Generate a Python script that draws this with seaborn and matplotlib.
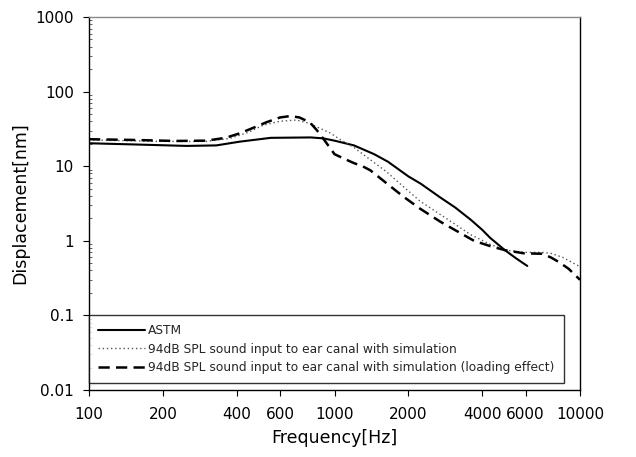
import numpy as np
import pandas as pd
import matplotlib
matplotlib.use("Agg")
import matplotlib.pyplot as plt
from matplotlib.ticker import FixedLocator, FixedFormatter, NullLocator, LogLocator
import seaborn as sns

# values (log-log axes)
astm_freq = [100, 150, 250, 330, 410, 550, 800, 900, 1000, 1200, 1450, 1650, 2000,
             2250, 2700, 3100, 3600, 4000, 4300, 4940, 5500, 6100]
astm_disp = [20.3, 19.6, 18.7, 19.0, 21.3, 24.0, 24.3, 23.6, 22.0, 19.0, 14.5, 11.5, 7.3,
             5.8, 3.8, 2.8, 1.9, 1.4, 1.1, 0.75, 0.58, 0.46]

sim_freq = [100, 200, 300, 375, 440, 513, 600, 700, 780, 848, 960, 1050, 1190, 1390,
            1630, 1910, 2230, 2620, 3070, 3600, 4300, 4940, 6000, 7000, 7600, 8500, 10000]
sim_disp = [22.5, 21.5, 21.5, 23.6, 28, 35.5, 40, 41.6, 38, 33.6, 27.9, 23, 18.2, 12.4,
            8.4, 5.3, 3.4, 2.4, 1.7, 1.2, 0.9, 0.75, 0.7, 0.7, 0.68, 0.6, 0.45]

load_freq = [100, 150, 225, 300, 360, 410, 470, 530, 600, 660, 720, 795, 850, 910, 1000,
             1100, 1200, 1300, 1400, 1630, 1910, 2230, 2700, 3150, 3700, 4300, 4940, 5900,
             7000, 7600, 8200, 9000, 10000]
load_disp = [23.0, 22.5, 21.8, 22.0, 24.0, 27.5, 33, 39, 45, 47, 45, 38.5, 30, 22.3, 14.5,
             12.5, 11, 10, 8.8, 5.9, 3.9, 2.7, 1.8, 1.35, 1.0, 0.85, 0.75, 0.68,
             0.67, 0.6, 0.52, 0.42, 0.3]

labels = ["ASTM",
          "94dB SPL sound input to ear canal with simulation",
          "94dB SPL sound input to ear canal with simulation (loading effect)"]

x_ticks = [100, 200, 400, 600, 1000, 2000, 4000, 6000, 10000]
y_ticks = [0.01, 0.1, 1, 10, 100, 1000]
y_tick_labels = ["0.01", "0.1", "1", "10", "100", "1000"]

sns.set_style("ticks")
plt.rcParams['font.family'] = ['DejaVu Sans']

fig = plt.figure(figsize=(6.36, 4.57), dpi=100)
ax = fig.add_axes([89 / 636, 1 - 390 / 457, (580 - 89) / 636, (390 - 17) / 457])

sns.lineplot(x=astm_freq, y=astm_disp, ax=ax, color="black", linewidth=1.5,
             sort=False, label=labels[0])
sns.lineplot(x=sim_freq, y=sim_disp, ax=ax, color="#555555", linewidth=1.0,
             linestyle=(0, (1, 2)), sort=False, label=labels[1])
sns.lineplot(x=load_freq, y=load_disp, ax=ax, color="black", linewidth=1.8,
             linestyle=(0, (4.5, 2.5)), sort=False, label=labels[2])

ax.set_xscale("log")
ax.set_yscale("log")
ax.set_xlim(100, 10000)
ax.set_ylim(0.01, 1000)

ax.xaxis.set_major_locator(FixedLocator(x_ticks))
ax.xaxis.set_major_formatter(FixedFormatter([str(t) for t in x_ticks]))
ax.xaxis.set_minor_locator(NullLocator())
ax.yaxis.set_major_locator(FixedLocator(y_ticks))
ax.yaxis.set_major_formatter(FixedFormatter(y_tick_labels))
ax.yaxis.set_minor_locator(LogLocator(base=10, subs=np.arange(2, 10)))
ax.tick_params(axis="both", which="major", labelsize=11, length=4, width=0.8,
               color="black", labelcolor="black", direction="out")
ax.tick_params(axis="x", which="major", pad=8)
ax.tick_params(axis="y", which="major", pad=7)
ax.tick_params(axis="y", which="minor", length=2, width=0.5, direction="in")

ax.set_xlabel("Frequency[Hz]", fontsize=12.5, labelpad=5, color="black")
ax.set_ylabel("Displacement[nm]", fontsize=12.5, labelpad=4, color="black")

for side in ["left", "bottom", "right"]:
    ax.spines[side].set_color("black")
    ax.spines[side].set_linewidth(1.0)
ax.spines["top"].set_color("#888888")
ax.spines["top"].set_linewidth(1.0)
ax.spines["right"].set_visible(True)
ax.spines["top"].set_visible(True)

leg = ax.legend(loc="lower left", bbox_to_anchor=(0.0, 0.018), fontsize=8.8,
                frameon=True, fancybox=False, borderaxespad=0, handlelength=3.8,
                handletextpad=0.3, labelspacing=0.45, borderpad=0.75)
leg.get_frame().set_edgecolor("black")
leg.get_frame().set_linewidth(1.0)

fig.savefig("out.png", dpi=100)
